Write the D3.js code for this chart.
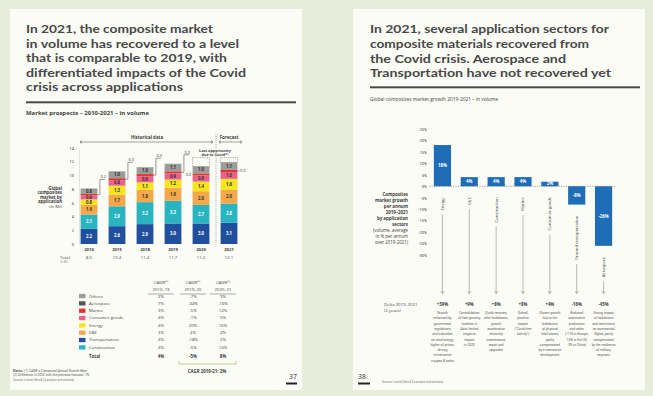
<!DOCTYPE html>
<html>
<head>
<meta charset="utf-8">
<script src="https://cdn.jsdelivr.net/npm/d3@7"></script>
<style>
  html, body { margin: 0; padding: 0; background: #e6eedb; }
  svg { display: block; font-family: "Open Sans", sans-serif; }
  .small { font-family: Roboto, "Liberation Sans", sans-serif; }
  .title { font-family: Lato, "Open Sans", sans-serif; }
</style>
</head>
<body>
<svg id="chart" width="653" height="396"></svg>
<script>
// ---------- left page data: market prospects 2010-2021 (Mt) ----------
const years = ['2010', '2015', '2018', '2019', '2020', '2021'];
const totals = ['8.5', '10.4', '11.4', '11.7', '11.2', '12.1'];
const transportation = [2.2, 2.6, 2.9, 3.0, 3.0, 3.1];
const construction = [2.1, 2.9, 3.2, 3.3, 2.7, 2.8];
const eAndE = [1.4, 1.7, 1.8, 1.9, 2.0, 2.0];
const energy = [0.8, 1.3, 1.1, 1.2, 1.4, 1.6];
const consumerGoods = [0.6, 0.8, 0.9, 0.9, 0.9, 1.0];
const marine = [0.2, 0.3, 0.3, 0.3, 0.3, 0.3];
const others = [0.8, 1.0, 1.0, 1.1, 1.0, 1.1];
const calloutUp = [0.2, 0.3, 0.3, 0.3, null, null];
const calloutRight = [null, null, null, 0.3, null, 0.3];
const forecastBefore = [null, null, null, null, 12.6, 12.6];   // top of "lost opportunity" boxes

const tableSectors = ['Others', 'Aerospace', 'Marine', 'Consumer goods', 'Energy', 'E&E', 'Transportation', 'Construction'];
const cagr2010to19 = ['3%', '7%', '3%', '4%', '4%', '3%', '4%', '4%'];
const cagr2019to20 = ['-7%', '-34%', '-5%', '-1%', '20%', '4%', '-18%', '-5%'];
const cagr2020to21 = ['9%', '-16%', '14%', '5%', '16%', '4%', '2%', '14%'];
const cagrTotals = ['4%', '-5%', '8%'];

// ---------- right page data: growth per annum 2019-2021 ----------
const sectors = ['Energy', 'E&E', 'Construction', 'Marine', 'Consumer goods', 'Ground transportation', 'Aerospace'];
const growthPerAnnum = [18, 4, 4, 4, 2, -8, -26];
const delta2019to21 = ['+39%', '+9%', '+8%', '+8%', '+4%', '-16%', '-45%'];
const comments = [
  ['Growth', 'enhanced by', 'government', 'regulations', 'and subsidies', 'on wind energy,', 'higher oil prices,', 'driving', 'investments', 'in pipes & tanks'],
  ['Consolidation', 'of fast-growing', 'markets in', 'Asia; limited', 'negative', 'impact', 'in 2020'],
  ['Quick recovery', 'after lockdowns,', 'growth', 'acceleration', 'driven by', 'maintenance,', 'repair and', 'upgrades'],
  ['Overall,', 'positive', 'impact', '("Covid-free', 'activity")'],
  ['Slower growth', 'due to the', 'lockdowns', 'of physical', 'retail stores,', 'partly', 'compensated', 'by e-commerce', 'development'],
  ['Reduced', 'automotive', 'production', 'and sales', '(-11% in Europe,', '-10% in the US,', '-3% in China)'],
  ['Strong impact', 'of lockdowns', 'and restrictions', 'on commercial', 'flights, partly', 'compensated', 'by the resilience', 'of military', 'segment']
];

const leftTitle = ['In 2021, the composite market', 'in volume has recovered to a level',
  'that is comparable to 2019, with', 'differentiated impacts of the Covid', 'crisis across applications'];
const leftTitleWidths = [187, 213, 201, 220, 157];
const rightTitle = ['In 2021, several application sectors for', 'composite materials recovered from',
  'the Covid crisis. Aerospace and', 'Transportation have not recovered yet'];
const rightTitleWidths = [239, 219, 196, 241];

const colors = {
  'Others': '#9c9c9c', 'Aerospace': '#575757', 'Marine': '#e2352b', 'Consumer goods': '#e9628d',
  'Energy': '#f6e41c', 'E&E': '#f4a84a', 'Transportation': '#1f4f9d', 'Construction': '#29b4c2'
};
const ink = '#3d3d3d';

const svg = d3.select('#chart');

// pages
svg.append('rect').attr('width', 653).attr('height', 396).attr('fill', '#e6eedb');
svg.append('rect').attr('x', 10).attr('y', 9).attr('width', 292).attr('height', 381).attr('fill', '#fbfcf6');
svg.append('rect').attr('x', 353).attr('y', 9).attr('width', 292).attr('height', 381).attr('fill', '#fbfcf6');

function textLines(g, arr, x, y, dy, opts) {
  const t = g.append('text')
    .attr('x', x).attr('y', y)
    .attr('text-anchor', opts.anchor || 'start')
    .attr('font-size', opts.size)
    .attr('font-weight', opts.weight || 'normal')
    .attr('fill', opts.fill || ink);
  if (opts.cls) t.attr('class', opts.cls);
  arr.forEach((s, i) => {
    const ts = t.append('tspan').attr('x', x).attr('y', y + i * dy).text(s)
      .attr('font-weight', opts.weights ? opts.weights[i] : null);
    if (opts.widths) ts.attr('textLength', opts.widths[i]).attr('lengthAdjust', 'spacingAndGlyphs');
  });
  return t;
}

// ================= LEFT PAGE =================
const left = svg.append('g');

textLines(left, leftTitle, 26, 33.3, 14.4,
  { size: 11.5, weight: 700, fill: '#484848', cls: 'title', widths: leftTitleWidths });

left.append('rect').attr('x', 26).attr('y', 101.3).attr('width', 270).attr('height', 2).attr('fill', '#4a4a4a');
left.append('text').attr('x', 26).attr('y', 115).attr('font-size', 4.8).attr('font-weight', 700)
  .attr('textLength', 123).attr('lengthAdjust', 'spacingAndGlyphs')
  .attr('fill', ink).text('Market prospects – 2010-2021 – in volume');

// stacked bars
const keys = ['Transportation', 'Construction', 'E&E', 'Energy', 'Consumer goods', 'Marine', 'Others'];
const seriesByKey = {
  'Transportation': transportation, 'Construction': construction, 'E&E': eAndE, 'Energy': energy,
  'Consumer goods': consumerGoods, 'Marine': marine, 'Others': others
};
const rows = years.map((y, i) => {
  const r = { year: y };
  keys.forEach(k => { r[k] = seriesByKey[k][i]; });
  return r;
});
const stacked = d3.stack().keys(keys)(rows);

const xL = d3.scaleBand().domain(years).range([75, 243]).paddingInner(0.4).paddingOuter(0.2);
const yL = d3.scaleLinear().domain([0, 14]).range([244, 148]);

left.append('g')
  .attr('transform', 'translate(79,0)')
  .call(d3.axisLeft(yL).tickValues(d3.range(0, 15, 2)).tickSize(0).tickPadding(5))
  .call(g => g.select('.domain').attr('stroke', '#c8c8c8').attr('stroke-width', 0.5))
  .call(g => g.selectAll('text').attr('font-size', 4).attr('fill', ink).attr('font-family', 'Roboto, sans-serif'));

const layer = left.selectAll('g.layer').data(stacked).join('g').attr('class', 'layer')
  .attr('fill', d => colors[d.key]);
layer.selectAll('rect').data(d => d).join('rect')
  .attr('x', d => xL(d.data.year))
  .attr('width', xL.bandwidth())
  .attr('y', d => yL(d[1]))
  .attr('height', d => yL(d[0]) - yL(d[1]));

const darkText = ['E&E', 'Energy', 'Consumer goods', 'Others'];
layer.filter(d => d.key !== 'Marine').selectAll('text').data(d => d.map(v => ({ key: d.key, v }))).join('text')
  .attr('x', d => xL(d.v.data.year) + xL.bandwidth() / 2)
  .attr('y', d => (yL(d.v[0]) + yL(d.v[1])) / 2 + 1.5)
  .attr('text-anchor', 'middle')
  .attr('font-size', 4.3)
  .attr('font-weight', 700)
  .attr('fill', d => darkText.includes(d.key) ? '#333' : '#fff')
  .text(d => d3.format('.1f')(d.v[1] - d.v[0]));

// marine callouts
const marineLayer = stacked.find(s => s.key === 'Marine');
const othersLayer = stacked.find(s => s.key === 'Others');
const leaders = left.append('g').attr('fill', 'none').attr('stroke', '#333').attr('stroke-width', 0.5);
years.forEach((yr, i) => {
  const right = xL(yr) + xL.bandwidth();
  const midY = yL((marineLayer[i][0] + marineLayer[i][1]) / 2);
  const topY = yL(othersLayer[i][1]);
  if (calloutUp[i] != null) {
    const vx = right + 2.5;
    const ty = topY - 9;
    leaders.append('path').attr('d', `M${right},${midY}H${vx}V${ty}H${vx + 5}`);
    left.append('text').attr('x', vx + 0.5).attr('y', ty - 1).attr('font-size', 4).attr('fill', '#333')
      .text(d3.format('.1f')(calloutUp[i]));
  }
  if (calloutRight[i] != null) {
    const lx = calloutUp[i] != null ? right + 4 : right + 2.5;
    if (calloutUp[i] == null) leaders.append('path').attr('d', `M${right},${midY}H${right + 2}`);
    left.append('text').attr('x', lx).attr('y', midY + (calloutUp[i] != null ? 3.5 : 1.5)).attr('font-size', 4).attr('fill', '#333')
      .text(d3.format('.1f')(calloutRight[i]));
  }
  if (forecastBefore[i] != null) {
    left.append('rect')
      .attr('x', xL(yr)).attr('width', xL.bandwidth())
      .attr('y', yL(forecastBefore[i]))
      .attr('height', topY - yL(forecastBefore[i]))
      .attr('fill', 'none').attr('stroke', '#555').attr('stroke-width', 0.5).attr('stroke-dasharray', '1,0.8');
  }
});

// year and total rows
left.selectAll('text.year').data(years).join('text').attr('class', 'year')
  .attr('x', d => xL(d) + xL.bandwidth() / 2).attr('y', 250.8)
  .attr('text-anchor', 'middle').attr('font-size', 4.2).attr('font-weight', 700).attr('fill', ink).text(d => d);
left.selectAll('text.total').data(totals).join('text').attr('class', 'total')
  .attr('x', (d, i) => xL(years[i]) + xL.bandwidth() / 2).attr('y', 258.8)
  .attr('text-anchor', 'middle').attr('font-size', 4.2).attr('fill', ink).text(d => d);
left.append('text').attr('x', 60).attr('y', 258.8).attr('font-size', 4.2).attr('fill', ink).text('Total');
left.append('text').attr('x', 60).attr('y', 262.5).attr('font-size', 2.6).attr('fill', '#777').text('(in Mt)');

// y title
textLines(left, ['Global', 'composites', 'market by', 'application', '(in Mt)'], 62, 189.5, 4.6,
  { size: 4.3, anchor: 'end', weights: [700, 700, 700, 700, 400] });

// historical / forecast header
const arrows = left.append('g').attr('stroke', '#444').attr('stroke-width', 0.5).attr('fill', 'none');
arrows.append('path').attr('d', 'M80,142H213 M82,140.5L80,142L82,143.5 M211,140.5L213,142L211,143.5');
arrows.append('path').attr('d', 'M219,142H242 M221,140.5L219,142L221,143.5 M240,140.5L242,142L240,143.5');
left.append('line').attr('x1', 216).attr('x2', 216).attr('y1', 134).attr('y2', 246)
  .attr('stroke', '#555').attr('stroke-width', 0.5).attr('stroke-dasharray', '1,1');
left.append('text').attr('x', 147).attr('y', 139).attr('text-anchor', 'middle').attr('font-size', 4.4)
  .attr('font-weight', 700).attr('fill', ink).text('Historical data');
left.append('text').attr('x', 229).attr('y', 139).attr('text-anchor', 'middle').attr('font-size', 4.4)
  .attr('font-weight', 700).attr('fill', ink).text('Forecast');
textLines(left, ['Lost opportunity', 'due to Covid⁽²⁾'], 215, 151.5, 4.3, { size: 3.8, anchor: 'middle', weight: 700 });

// CAGR table
const colX = [161, 193, 223];
const heads = [['CAGR⁽¹⁾', '2010–19'], ['CAGR⁽¹⁾', '2019–20'], ['CAGR⁽¹⁾', '2020–21']];
heads.forEach((h, j) => {
  textLines(left, h, colX[j], 283.5, 7, { size: 4.3, anchor: 'middle' });
  left.append('line').attr('x1', colX[j] - 13).attr('x2', colX[j] + 13).attr('y1', 294).attr('y2', 294)
    .attr('stroke', '#555').attr('stroke-width', 0.5);
});
const rowY = i => 297.5 + i * 7.33;
left.selectAll('rect.sw').data(tableSectors).join('rect').attr('class', 'sw')
  .attr('x', 79).attr('y', (d, i) => rowY(i) - 3.6).attr('width', 6.5).attr('height', 4.3)
  .attr('fill', d => colors[d]);
left.selectAll('text.sector').data(tableSectors).join('text').attr('class', 'sector')
  .attr('x', 89).attr('y', (d, i) => rowY(i)).attr('font-size', 4.3).attr('fill', ink).text(d => d);
[cagr2010to19, cagr2019to20, cagr2020to21].forEach((col, j) => {
  left.selectAll('text.c' + j).data(col).join('text').attr('class', 'c' + j)
    .attr('x', colX[j]).attr('y', (d, i) => rowY(i)).attr('text-anchor', 'middle')
    .attr('font-size', 4.2).attr('fill', ink).text(d => d);
  left.append('text').attr('x', colX[j]).attr('y', rowY(8) + 1.7).attr('text-anchor', 'middle')
    .attr('font-size', 4.3).attr('font-weight', 700).attr('fill', ink).text(cagrTotals[j]);
});
left.append('text').attr('x', 89).attr('y', rowY(8) + 1.7).attr('font-size', 4.4).attr('font-weight', 700)
  .attr('fill', ink).text('Total');
left.append('path').attr('d', 'M179,361V364H236V361').attr('fill', 'none')
  .attr('stroke', '#a9c47c').attr('stroke-width', 0.8);
left.append('text').attr('x', 207).attr('y', 373).attr('text-anchor', 'middle').attr('font-size', 4.4)
  .attr('font-weight', 700).attr('fill', ink).text('CAGR 2019-21: 2%');

// notes
const notes = left.append('text').attr('font-size', 3.4).attr('fill', '#555').attr('class', 'small');
notes.append('tspan').attr('x', 13).attr('y', 371.5).attr('font-weight', 700).text('Notes: ');
notes.append('tspan').attr('font-style', 'italic').text('(1) CAGR = Compound Annual Growth Rate;');
notes.append('tspan').attr('x', 13).attr('y', 375.8).attr('font-style', 'italic')
  .text('(2) Difference in 2020 with the previous forecast: 7%');
left.append('text').attr('x', 13).attr('y', 380.6).attr('font-size', 2.7).attr('fill', '#777').attr('class', 'small')
  .text('Sources: Lucintel, Bain & Co analysis and estimates');
left.append('text').attr('x', 297).attr('y', 378.5).attr('text-anchor', 'end').attr('font-size', 7)
  .attr('fill', '#333').text('37');
left.append('rect').attr('x', 286).attr('y', 382.5).attr('width', 11).attr('height', 2).attr('fill', '#222');

// ================= RIGHT PAGE =================
const rightPg = svg.append('g');

textLines(rightPg, rightTitle, 370, 33.3, 14.7,
  { size: 11.5, weight: 700, fill: '#484848', cls: 'title', widths: rightTitleWidths });
rightPg.append('rect').attr('x', 370).attr('y', 86.3).attr('width', 270).attr('height', 2).attr('fill', '#4a4a4a');
rightPg.append('text').attr('x', 370).attr('y', 100.5).attr('font-size', 4.5).attr('fill', ink)
  .attr('textLength', 128).attr('lengthAdjust', 'spacingAndGlyphs')
  .text('Global composites market growth 2019-2021 – in volume');

const xR = d3.scaleBand().domain(sectors).range([429, 617]).paddingInner(0.36).paddingOuter(0.18);
const yR = d3.scaleLinear().domain([-30, 25]).range([255, 129]);

rightPg.append('g')
  .attr('transform', 'translate(428,0)')
  .call(d3.axisLeft(yR).tickValues(d3.range(-30, 26, 5)).tickSize(0).tickPadding(1).tickFormat(d => d + '%'))
  .call(g => g.select('.domain').remove())
  .call(g => g.selectAll('text').attr('font-size', 4).attr('fill', ink).attr('font-family', 'Roboto, sans-serif'));

rightPg.selectAll('rect.bar').data(growthPerAnnum).join('rect').attr('class', 'bar')
  .attr('x', (d, i) => xR(sectors[i])).attr('width', xR.bandwidth())
  .attr('y', d => yR(Math.max(0, d))).attr('height', d => Math.abs(yR(d) - yR(0)))
  .attr('fill', '#1f6db6');
rightPg.selectAll('text.val').data(growthPerAnnum).join('text').attr('class', 'val')
  .attr('x', (d, i) => xR(sectors[i]) + xR.bandwidth() / 2)
  .attr('y', d => (yR(d) + yR(0)) / 2 + 1.5)
  .attr('text-anchor', 'middle').attr('font-size', 4.3).attr('font-weight', 700).attr('fill', '#fff')
  .text(d => d + '%');

rightPg.append('line').attr('x1', 429).attr('x2', 615).attr('y1', yR(0)).attr('y2', yR(0))
  .attr('stroke', '#666').attr('stroke-width', 0.6).attr('stroke-dasharray', '1.2,1.2');

const arrowY = 293.5;
sectors.forEach((s, i) => {
  const cx = xR(s) + xR.bandwidth() / 2;
  const y0 = yR(Math.min(0, growthPerAnnum[i])) + 11;
  const lab = rightPg.append('text')
    .attr('transform', `translate(${cx + 1.4},${y0}) rotate(-90)`)
    .attr('text-anchor', 'end').attr('font-size', 4.2).attr('fill', ink).text(s);
  const len = lab.node().getComputedTextLength();
  rightPg.append('path')
    .attr('d', `M${cx},${y0 + len + 4}V${arrowY} M${cx - 1.6},${arrowY - 2.4}L${cx},${arrowY}L${cx + 1.6},${arrowY - 2.4}`)
    .attr('fill', 'none').attr('stroke', '#777').attr('stroke-width', 0.5);
  rightPg.append('text').attr('x', cx).attr('y', 305.5).attr('text-anchor', 'middle')
    .attr('font-size', 4.3).attr('font-weight', 700).attr('fill', ink).text(delta2019to21[i]);
  textLines(rightPg, comments[i], cx, 314, 5.3, { size: 3.3, anchor: 'middle', fill: '#555', cls: 'small' });
});

textLines(rightPg, ['Composites', 'market growth', 'per annum', '2019–2021', 'by application', 'sectors',
  '(volume, average', 'in % per annum', 'over 2019-2021)'], 408, 195.5, 6,
  { size: 4.4, anchor: 'end', weights: [700, 700, 700, 700, 700, 700, 400, 400, 400] });

textLines(rightPg, ['Delta 2019–2021', '(2 years)'], 384, 305.5, 6.5, { size: 4.3 });

rightPg.append('text').attr('x', 358).attr('y', 378.5).attr('font-size', 7).attr('fill', '#333').text('38');
rightPg.append('rect').attr('x', 358).attr('y', 382.5).attr('width', 12).attr('height', 2).attr('fill', '#222');
rightPg.append('text').attr('x', 382).attr('y', 382.5).attr('font-size', 2.7).attr('fill', '#777').attr('class', 'small')
  .text('Sources: Lucintel, Bain & Co analysis and estimates');
</script>
</body>
</html>
